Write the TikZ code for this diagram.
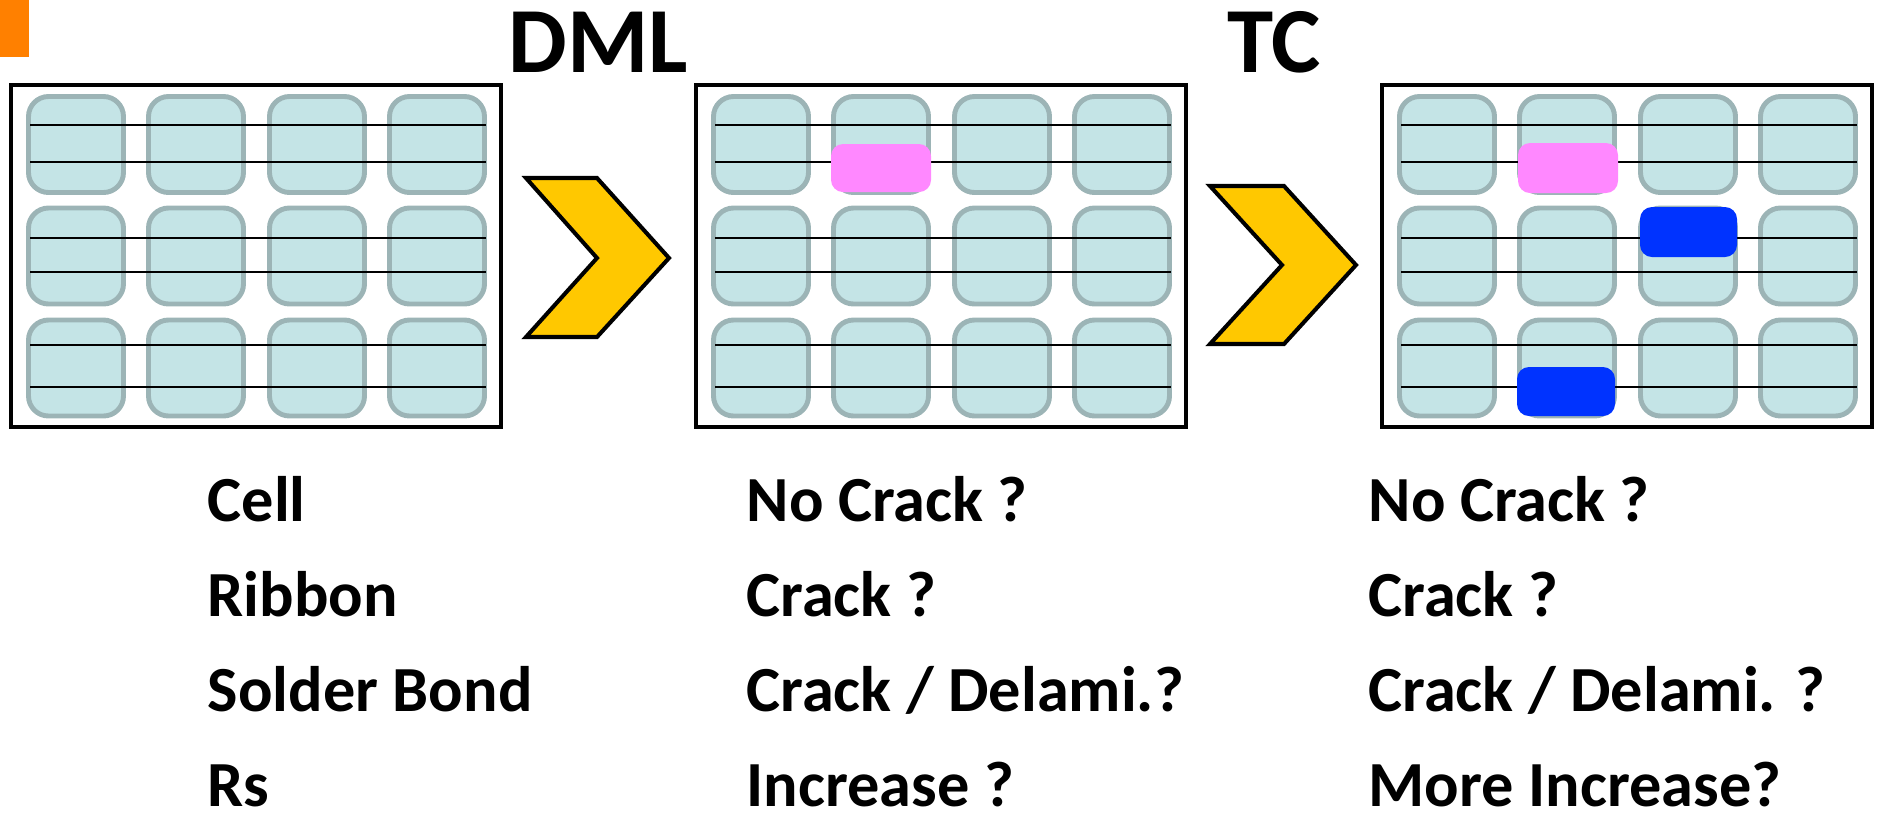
\documentclass[tikz,border=0pt]{standalone}
\usepackage{fontspec}
\setmainfont{Carlito}
\usepackage{tikz}
\definecolor{PVOrange}{HTML}{FF8000}
\definecolor{PVCell}{HTML}{C4E4E6}
\definecolor{PVCellLine}{HTML}{9CB4B6}
\definecolor{PVGold}{HTML}{FFC800}
\definecolor{PVPink}{HTML}{FF88FF}
\definecolor{PVBlue}{HTML}{0033FF}

\tikzset{
  panelframe/.style={draw=black,line width=1.15pt},
  cellbox/.style={draw=PVCellLine,fill=PVCell,line width=1.4pt,rounded corners=2mm,
    minimum width=9.5mm,minimum height=9.6mm,inner sep=0pt},
  ribbon/.style={black,line width=0.45pt},
  patch/.style={rounded corners=1.2mm,minimum width=10mm,minimum height=4.9mm,inner sep=0pt},
  chevron/.style={draw=black,fill=PVGold,line width=1.15pt},
  headlbl/.style={anchor=base west,inner sep=0pt,text depth=0pt,font=\fontsize{26.5}{30}\selectfont\bfseries},
  lbl/.style={anchor=base west,inner sep=0pt,text depth=0pt,font=\fontsize{18.3}{22}\selectfont\bfseries}
}

\begin{document}
\begin{tikzpicture}[x=0.1mm,y=-0.1mm]
\path[use as bounding box] (0,0) rectangle (1877,812);
\fill[PVOrange] (0,0) rectangle (29,57);
% three modules
\foreach \px/\pn in {9/a,694/b,1380/c}{
  \draw[panelframe] (\px+2,85) rectangle (\px+492,427);
  \foreach \cx [count=\i] in {67,187,308,428}
    \foreach \cy [count=\j] in {144.5,256,368}
      \node[cellbox] (\pn\i\j) at (\px+\cx,\cy) {};
  \foreach \ly in {125,162,238,272,345,387}
    \draw[ribbon] (\px+21,\ly) -- (\px+477,\ly);
}
% damaged spots
\node[patch,fill=PVPink,minimum height=4.8mm] (bpink) at (881,168) {};
\node[patch,fill=PVPink,minimum height=5mm] (cpink) at (1568,168) {};
\node[patch,fill=PVBlue,minimum width=9.7mm,minimum height=5mm] (cblueA) at (1688.5,232) {};
\node[patch,fill=PVBlue,minimum width=9.8mm] (cblueB) at (1566,391.5) {};
% chevrons
\draw[chevron] (526,178) -- (597,178) -- (669,258) -- (597,337) -- (526,337) -- (597,258) -- cycle;
\draw[chevron] (1210,186) -- (1284,186) -- (1356,265) -- (1284,344) -- (1210,344) -- (1282,265) -- cycle;
\node[headlbl] (dml) at (508,72) {DML};
\node[headlbl] (tc) at (1227,72) {TC};
% labels
\node[lbl] (cell) at (207,521) {Cell};
\node[lbl] (ribbon) at (207,616) {Ribbon};
\node[lbl] (solder) at (207,711) {Solder Bond};
\node[lbl] (rs) at (207,806) {Rs};
\node[lbl] (dmlcell) at (746,521) {No Crack ?};
\node[lbl] (dmlribbon) at (746,616) {Crack ?};
\node[lbl] (dmlsolder) at (746,711) {Crack / Delami.?};
\node[lbl] (dmlrs) at (746,806) {Increase ?};
\node[lbl] (tccell) at (1368,521) {No Crack ?};
\node[lbl] (tcribbon) at (1368,616) {Crack ?};
\node[lbl] (tcsolder) at (1368,711) {Crack / Delami. ?};
\node[lbl] (tcrs) at (1368,806) {More Increase?};
\end{tikzpicture}
\end{document}
